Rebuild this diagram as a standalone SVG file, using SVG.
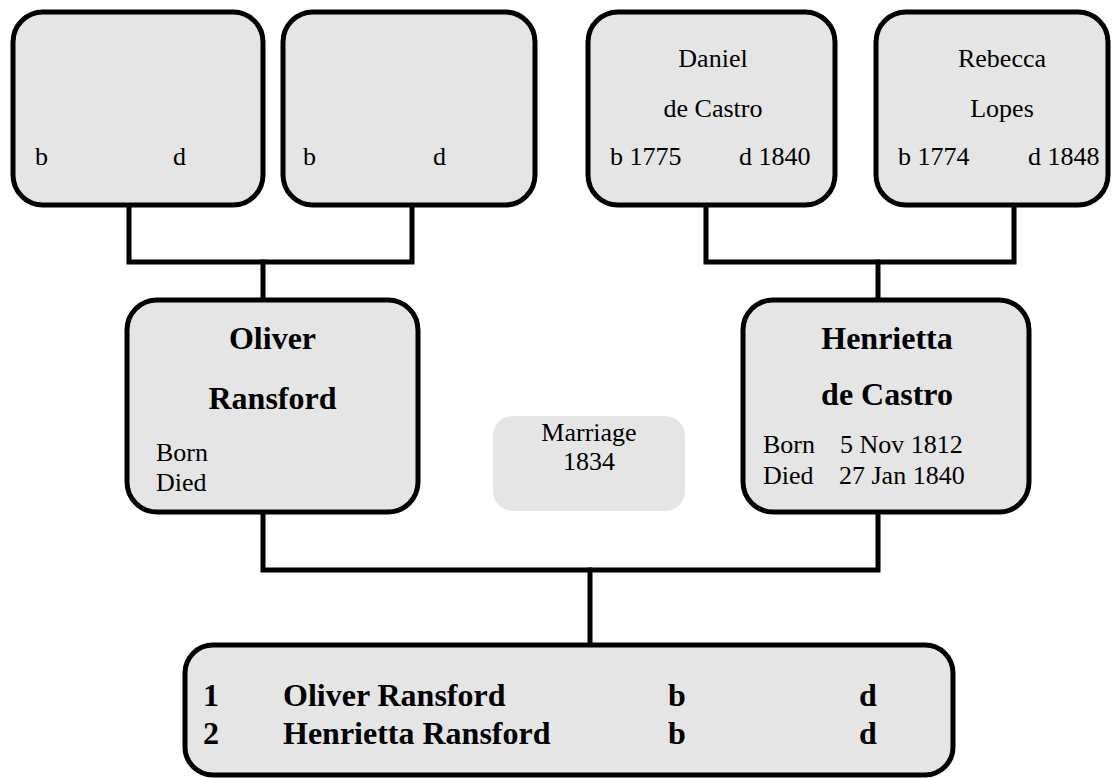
<svg xmlns="http://www.w3.org/2000/svg" width="1118" height="778" viewBox="0 0 1118 778">
<style>
.box{fill:#e5e5e5;stroke:#000;stroke-width:5}
.mar{fill:#e5e5e5;stroke:none}
.t{font-family:"Liberation Serif","Times New Roman",serif;font-size:26px;fill:#000}
.b{font-family:"Liberation Serif","Times New Roman",serif;font-size:32px;font-weight:bold;fill:#000}
.c{text-anchor:middle}
.ln{fill:none;stroke:#000;stroke-width:5;stroke-linecap:square}
</style>
<rect width="1118" height="778" fill="#fff"/>
<g id="connectors">
<polyline class="ln" points="129,207 129,262 412,262 412,207"/>
<line class="ln" x1="263" y1="262" x2="263" y2="298"/>
<polyline class="ln" points="706,207 706,262 1014,262 1014,207"/>
<line class="ln" x1="878" y1="262" x2="878" y2="298"/>
<polyline class="ln" points="263,514 263,570 878,570 878,514"/>
<line class="ln" x1="590" y1="570" x2="590" y2="643"/>
</g>
<g id="gp1">
<rect class="box" x="13" y="12" width="250" height="193" rx="30"/>
<text class="t" x="35" y="165">b</text>
<text class="t" x="173" y="165">d</text>
</g>
<g id="gp2">
<rect class="box" x="283" y="12" width="252" height="193" rx="30"/>
<text class="t" x="303" y="165">b</text>
<text class="t" x="433" y="165">d</text>
</g>
<g id="daniel">
<rect class="box" x="588" y="12" width="247" height="193" rx="30"/>
<text class="t c" x="713" y="67">Daniel</text>
<text class="t c" x="713" y="117">de Castro</text>
<text class="t" x="610" y="165">b 1775</text>
<text class="t" x="739" y="165">d 1840</text>
</g>
<g id="rebecca">
<rect class="box" x="876" y="12" width="232" height="193" rx="30"/>
<text class="t c" x="1002" y="67">Rebecca</text>
<text class="t c" x="1002" y="117">Lopes</text>
<text class="t" x="898" y="165">b 1774</text>
<text class="t" x="1028" y="165">d 1848</text>
</g>
<g id="oliver">
<rect class="box" x="127" y="300" width="291" height="212" rx="30"/>
<text class="b c" x="272.5" y="349">Oliver</text>
<text class="b c" x="272.5" y="409">Ransford</text>
<text class="t" x="156" y="461">Born</text>
<text class="t" x="156" y="491">Died</text>
</g>
<g id="henrietta">
<rect class="box" x="743" y="300" width="286" height="212" rx="30"/>
<text class="b c" x="887" y="349">Henrietta</text>
<text class="b c" x="887" y="405">de Castro</text>
<text class="t" x="763" y="453">Born</text>
<text class="t" x="840" y="453">5 Nov 1812</text>
<text class="t" x="763" y="484">Died</text>
<text class="t" x="839" y="484">27 Jan 1840</text>
</g>
<g id="marriage">
<rect class="mar" x="493" y="416" width="192" height="95" rx="20"/>
<text class="t c" x="589" y="441">Marriage</text>
<text class="t c" x="589" y="470">1834</text>
</g>
<g id="children">
<rect class="box" x="185" y="645" width="768" height="130" rx="28"/>
<text class="b" x="203" y="706">1</text>
<text class="b" x="283" y="706">Oliver Ransford</text>
<text class="b" x="668" y="706">b</text>
<text class="b" x="859" y="706">d</text>
<text class="b" x="203" y="744">2</text>
<text class="b" x="283" y="744">Henrietta Ransford</text>
<text class="b" x="668" y="744">b</text>
<text class="b" x="859" y="744">d</text>
</g>
</svg>
